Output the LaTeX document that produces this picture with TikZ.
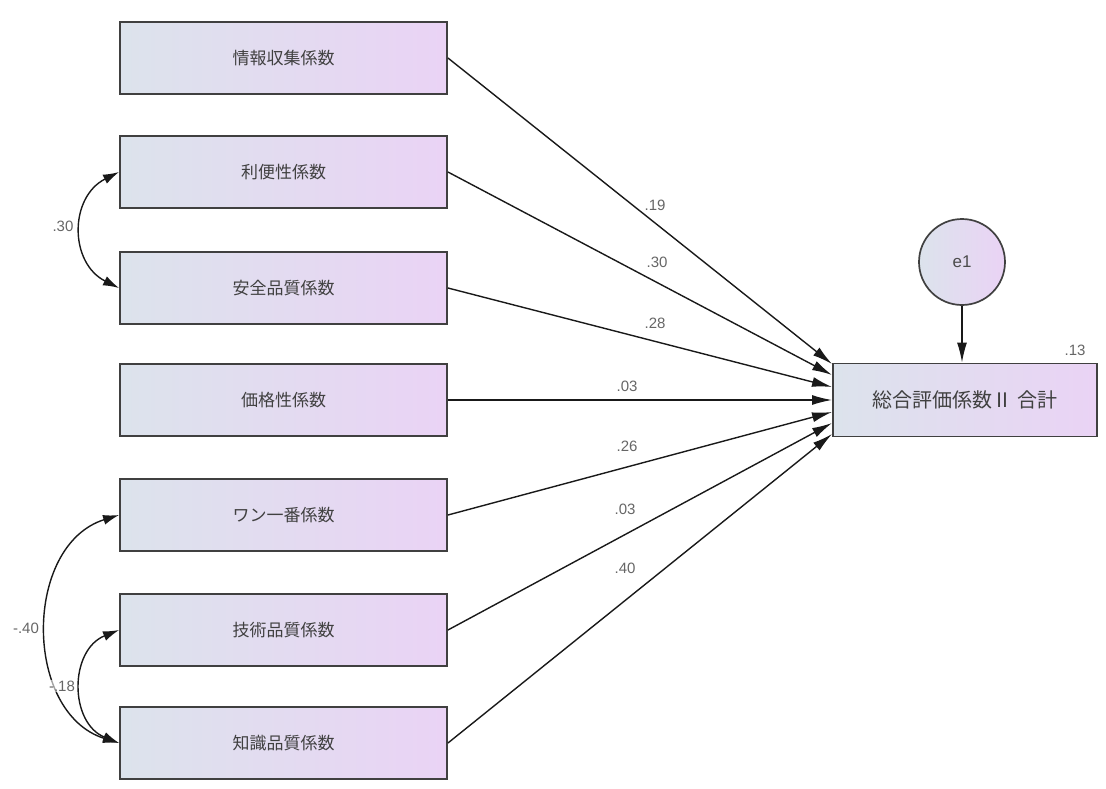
\documentclass[tikz,border=0pt]{standalone}
\usepackage{fontspec}
\newfontfamily\jp{Noto Sans CJK JP}
\newfontfamily\lbf{Liberation Sans}
\usetikzlibrary{arrows.meta,calc}
\definecolor{boxl}{HTML}{DCE3EC}
\definecolor{boxr}{HTML}{EAD3F5}
\begin{document}
\begin{tikzpicture}[x=1pt,y=-1pt,
  obs/.style={draw=black!75, line width=1.9pt, left color=boxl, right color=boxr,
    minimum width=327pt, minimum height=72pt, inner sep=0pt,
    font=\jp\fontsize{17}{19}\selectfont, text=black!75},
  pth/.style={line width=1.4pt, draw=black!90, -{Latex[length=20pt,width=10pt]}},
  cov/.style={line width=1.4pt, draw=black!90, {Latex[length=16pt,width=10pt]}-{Latex[length=16pt,width=10pt]}},
  lab/.style={font=\lbf\fontsize{15}{17}\selectfont, text=black!60, inner sep=1pt, fill=white, fill opacity=0.6, text opacity=1}]
\useasboundingbox (0,0) rectangle (1106,788);
\node[obs] (v1) at (283.5,58)  {情報収集係数};
\node[obs] (v2) at (283.5,172) {利便性係数};
\node[obs] (v3) at (283.5,288) {安全品質係数};
\node[obs] (v4) at (283.5,400) {価格性係数};
\node[obs] (v5) at (283.5,515) {ワン一番係数};
\node[obs] (v6) at (283.5,630) {技術品質係数};
\node[obs] (v7) at (283.5,743) {知識品質係数};
\node[obs, minimum width=264pt, minimum height=73pt, font=\jp\fontsize{20}{22}\selectfont] (dep) at (965,400) {総合評価係数Ⅱ 合計};
\node[circle, draw=black!75, line width=1.7pt, left color=boxl, right color=boxr,
      minimum size=86pt, font=\lbf\fontsize{17}{19}\selectfont, text=black!70] (e1) at (962,262) {e1};
\draw[pth] (e1.south) -- (e1.south |- dep.north);
\node[lab] (r2) at (1075,350) {.13};
% paths
\draw[pth] (v1.east) -- ($(dep.west)+(0,-36)$);
\draw[pth] (v2.east) -- ($(dep.west)+(0,-25)$);
\draw[pth] (v3.east) -- ($(dep.west)+(0,-13)$);
\draw[pth] (v4.east) -- ($(dep.west)+(0,0)$);
\draw[pth] (v5.east) -- ($(dep.west)+(0,12)$);
\draw[pth] (v6.east) -- ($(dep.west)+(0,23)$);
\draw[pth] (v7.east) -- ($(dep.west)+(0,34)$);
\node[lab] (l1) at (655,205) {.19};
\node[lab] (l2) at (657,262) {.30};
\node[lab] (l3) at (655,323) {.28};
\node[lab] (l4) at (627,386) {.03};
\node[lab] (l5) at (627,446) {.26};
\node[lab] (l6) at (625,509) {.03};
\node[lab] (l7) at (625,568) {.40};
% covariances
\draw[cov] (v2.west) .. controls +(-50,25) and +(-50,-25) .. (v3.west);
\node[lab] (c1) at (63,226) {.30};
\draw[cov] (v5.west) .. controls +(-96,30) and +(-96,-30) .. (v7.west);
\node[lab] (c2) at (26,628) {-.40};
\draw[cov] (v6.west) .. controls +(-50,20) and +(-50,-20) .. (v7.west);
\node[lab] (c3) at (62,686) {-.18};
\end{tikzpicture}
\end{document}
